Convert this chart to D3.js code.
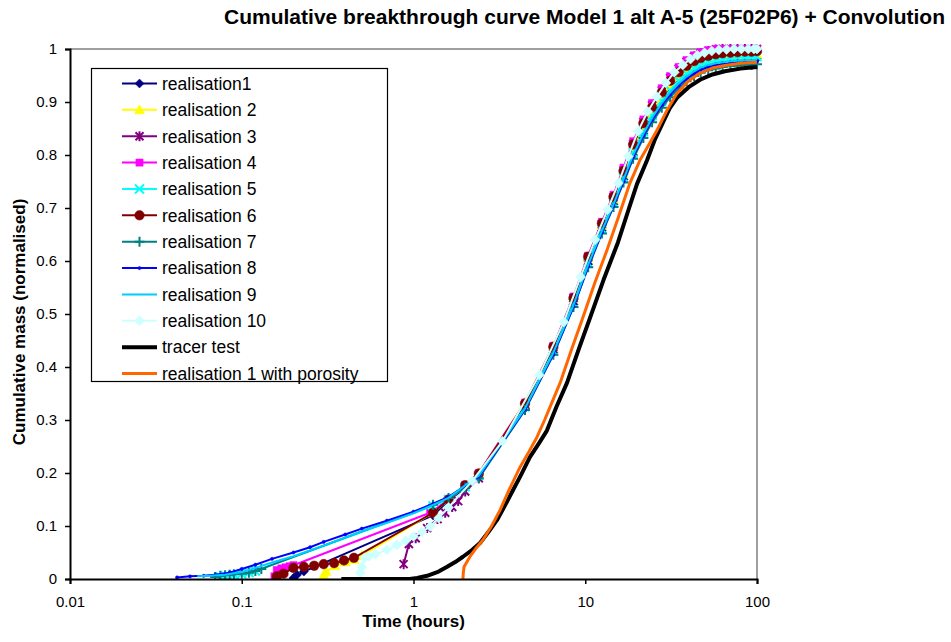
<!DOCTYPE html>
<html>
<head>
<meta charset="utf-8">
<script src="https://cdn.jsdelivr.net/npm/d3@7"></script>
<style>
  html, body { margin: 0; padding: 0; background: #fff; }
  svg { display: block; font-family: "Liberation Sans", Arial, sans-serif; }
</style>
</head>
<body>
<script>
// ---------------- DATA ----------------
const chartTitle = "Cumulative breakthrough curve Model 1 alt A-5 (25F02P6) + Convolution";
const xTitle = "Time (hours)";
const yTitle = "Cumulative mass (normalised)";
const xTickValues = [0.01, 0.1, 1, 10, 100];
const xTickLabels = ["0.01", "0.1", "1", "10", "100"];
const yTickValues = [0, 0.1, 0.2, 0.3, 0.4, 0.5, 0.6, 0.7, 0.8, 0.9, 1];
const yTickLabels = ["0", "0.1", "0.2", "0.3", "0.4", "0.5", "0.6", "0.7", "0.8", "0.9", "1"];

const seriesNames = ["realisation1", "realisation 2", "realisation 3", "realisation 4", "realisation 5",
  "realisation 6", "realisation 7", "realisation 8", "realisation 9", "realisation 10",
  "tracer test", "realisation 1 with porosity"];

// shared time grids (hours) for the steep part of the realisation curves
const tA = [2.0, 2.4, 4.46, 6.52, 8.54, 10.4, 12.5, 14.6, 16.7, 19, 21.8, 24.5, 27.9, 31.2, 35, 38.9, 43, 47, 52, 57.5, 63, 70, 77, 85, 93, 100];
const tB = [2.2, 3.3, 5.4, 7.5, 9.4, 11.4, 13.5, 15.6, 17.8, 20.3, 23.1, 26.1, 29.5, 33, 37, 41, 45, 49.5, 54.5, 60, 66.5, 73.5, 81, 89, 96, 100];

// early parts [time, mass]
const r1Early = [[0.2, 0.002], [0.21, 0.008], [0.23, 0.014], [1.3, 0.12], [1.6, 0.148]];
const r2Early = [[0.3, 0.008], [0.31, 0.014], [0.35, 0.025], [0.4, 0.032], [0.45, 0.037], [0.5, 0.044], [1.3, 0.125], [1.6, 0.15]];
const r3Early = [[0.876, 0.028], [0.94, 0.066], [1.03, 0.077], [1.2, 0.096], [1.38, 0.113], [1.53, 0.125], [1.68, 0.136], [1.82, 0.147]];
const r4Early = [[0.155, 0.005], [0.16, 0.017], [0.17, 0.02], [0.18, 0.022], [0.19, 0.024], [0.2, 0.026], [1.25, 0.125], [1.6, 0.15]];
const r5Early = [[0.075, 0.004], [0.08, 0.006], [0.09, 0.008], [0.1, 0.01], [0.11, 0.012], [0.12, 0.015], [1.3, 0.138], [1.6, 0.15]];
const r6Early = [[0.16, 0.005], [0.175, 0.01], [0.2, 0.021], [0.23, 0.023], [0.264, 0.025], [0.3, 0.028], [0.345, 0.03], [0.394, 0.035], [0.45, 0.04], [1.3, 0.125], [1.6, 0.15]];
const r7Early = [[0.07, 0.004], [0.075, 0.006], [0.08, 0.007], [0.085, 0.008], [0.09, 0.009], [0.1, 0.01], [0.11, 0.012], [0.12, 0.015], [0.13, 0.019], [1.3, 0.14], [1.6, 0.153]];
const r8Early = [[0.042, 0.003], [0.05, 0.005], [0.06, 0.006], [0.07, 0.008], [0.085, 0.012], [0.1, 0.019], [0.12, 0.027], [0.15, 0.038], [0.2, 0.05], [0.25, 0.06], [0.3, 0.07], [0.4, 0.084], [0.5, 0.095], [0.7, 0.11], [1.0, 0.127], [1.3, 0.142], [1.6, 0.155]];
const r9Early = [[0.055, 0.005], [0.065, 0.006], [0.08, 0.008], [0.1, 0.013], [0.12, 0.021], [0.15, 0.031], [0.2, 0.043], [0.3, 0.063], [0.4, 0.078], [0.5, 0.09], [0.7, 0.106], [1.0, 0.124], [1.3, 0.14], [1.6, 0.153]];
const r10Early = [[0.49, 0.012], [0.5, 0.022], [0.52, 0.04], [0.55, 0.043], [0.6, 0.047], [0.7, 0.055], [0.8, 0.064], [0.9, 0.072], [1.0, 0.08], [1.12, 0.089], [1.25, 0.099], [1.4, 0.115], [1.6, 0.135]];

// steep parts (values on tA, realisation 10 on tB)
const r1Up = [0.172, 0.193, 0.322, 0.427, 0.518, 0.594, 0.657, 0.707, 0.754, 0.8, 0.84, 0.87, 0.898, 0.918, 0.935, 0.948, 0.958, 0.965, 0.97, 0.974, 0.977, 0.979, 0.98, 0.981, 0.981, 0.982];
const r2Up = [0.176, 0.2, 0.334, 0.44, 0.53, 0.606, 0.668, 0.717, 0.765, 0.812, 0.852, 0.882, 0.909, 0.931, 0.948, 0.96, 0.969, 0.975, 0.98, 0.984, 0.986, 0.988, 0.989, 0.99, 0.99, 0.99];
const r3Up = [0.165, 0.19, 0.329, 0.437, 0.53, 0.607, 0.67, 0.72, 0.771, 0.821, 0.862, 0.894, 0.922, 0.945, 0.963, 0.976, 0.986, 0.992, 0.996, 0.999, 1.0, 1.0, 1.0, 1.0, 1.0, 1.0];
const r4Up = [0.178, 0.2, 0.333, 0.44, 0.533, 0.61, 0.674, 0.725, 0.776, 0.826, 0.867, 0.898, 0.926, 0.949, 0.966, 0.979, 0.988, 0.994, 0.998, 1.0, 1.0, 1.0, 1.0, 1.0, 1.0, 1.0];
const r5Up = [0.174, 0.195, 0.325, 0.43, 0.52, 0.596, 0.66, 0.71, 0.757, 0.804, 0.844, 0.874, 0.902, 0.922, 0.94, 0.953, 0.963, 0.97, 0.975, 0.978, 0.981, 0.983, 0.984, 0.985, 0.985, 0.986];
const r6Up = [0.177, 0.199, 0.331, 0.438, 0.53, 0.608, 0.671, 0.721, 0.77, 0.82, 0.86, 0.89, 0.918, 0.94, 0.956, 0.968, 0.977, 0.983, 0.987, 0.99, 0.992, 0.993, 0.994, 0.995, 0.995, 0.996];
const r7Up = [0.172, 0.19, 0.319, 0.423, 0.513, 0.588, 0.652, 0.702, 0.748, 0.793, 0.832, 0.862, 0.889, 0.909, 0.926, 0.939, 0.949, 0.955, 0.96, 0.963, 0.966, 0.968, 0.969, 0.97, 0.97, 0.971];
const r8Up = [0.176, 0.193, 0.32, 0.424, 0.514, 0.59, 0.654, 0.704, 0.75, 0.796, 0.836, 0.866, 0.894, 0.914, 0.931, 0.944, 0.954, 0.961, 0.966, 0.969, 0.971, 0.973, 0.974, 0.975, 0.975, 0.976];
const r9Up = [0.177, 0.195, 0.322, 0.427, 0.517, 0.593, 0.657, 0.707, 0.754, 0.8, 0.84, 0.87, 0.898, 0.918, 0.935, 0.948, 0.958, 0.965, 0.97, 0.973, 0.975, 0.977, 0.978, 0.979, 0.979, 0.98];
const r10Up = [0.185, 0.26, 0.385, 0.485, 0.57, 0.64, 0.697, 0.747, 0.797, 0.845, 0.882, 0.91, 0.936, 0.956, 0.97, 0.981, 0.988, 0.993, 0.996, 0.998, 0.999, 1.0, 1.0, 1.0, 1.0, 1.0];

const tracer = [[0.38, 0], [0.6, 0], [0.8, 0], [0.95, 0], [1.05, 0.002], [1.2, 0.006], [1.4, 0.014], [1.57, 0.023], [1.75, 0.032], [1.94, 0.042], [2.2, 0.055], [2.44, 0.068], [2.75, 0.09], [3.06, 0.111], [3.4, 0.138], [3.8, 0.168], [4.25, 0.198], [4.76, 0.23], [5.35, 0.255], [5.98, 0.28], [6.8, 0.325], [7.83, 0.37], [9.2, 0.435], [10.7, 0.494], [12.8, 0.565], [15.5, 0.635], [18, 0.7], [20, 0.745], [22.9, 0.79], [25.5, 0.83], [28.4, 0.862], [31, 0.888], [34.2, 0.908], [40, 0.928], [46.6, 0.942], [55, 0.952], [65, 0.958], [80, 0.963], [100, 0.966]];
const porosity = [[1.94, 0], [1.95, 0.012], [1.97, 0.023], [2.13, 0.042], [2.3, 0.057], [2.54, 0.074], [2.85, 0.1], [3.19, 0.13], [3.6, 0.168], [4.17, 0.211], [4.7, 0.24], [5.24, 0.268], [5.8, 0.3], [6.49, 0.338], [7.14, 0.37], [8.3, 0.432], [9.7, 0.494], [11.4, 0.56], [13.4, 0.621], [15.5, 0.68], [18.2, 0.747], [20.8, 0.79], [23.5, 0.82], [26.2, 0.847], [30, 0.885], [34, 0.915], [40, 0.94], [47, 0.955], [55, 0.964], [65, 0.969], [80, 0.973], [100, 0.975]];

// ---------------- STYLE ----------------
const W = 951, H = 642;
const plot = { left: 70, right: 757, top: 49, bottom: 579 };

function build(early, grid, up) { return early.concat(grid.map((t, i) => [t, up[i]])); }

const series = [
  { name: seriesNames[0], data: build(r1Early, tA, r1Up), color: "#000080", w: 2, m: "diamond", r: 4.5 },
  { name: seriesNames[1], data: build(r2Early, tA, r2Up), color: "#FFFF00", w: 2, m: "triangle", r: 5 },
  { name: seriesNames[2], data: build(r3Early, tA, r3Up), color: "#800080", w: 2, m: "asterisk", r: 5 },
  { name: seriesNames[3], data: build(r4Early, tA, r4Up), color: "#FF00FF", w: 2, m: "square", r: 3.6 },
  { name: seriesNames[4], data: build(r5Early, tA, r5Up), color: "#00FFFF", w: 2, m: "times", r: 4.5 },
  { name: seriesNames[5], data: build(r6Early, tA, r6Up), color: "#800000", w: 2, m: "circle", r: 4.8 },
  { name: seriesNames[6], data: build(r7Early, tA, r7Up), color: "#008080", w: 2, m: "plus", r: 5 },
  { name: seriesNames[7], data: build(r8Early, tA, r8Up), color: "#0000FF", w: 2, m: "circle", r: 1.6 },
  { name: seriesNames[8], data: build(r9Early, tA, r9Up), color: "#00CCFF", w: 2, m: null, r: 0 },
  { name: seriesNames[9], data: build(r10Early, tB, r10Up), color: "#CCFFFF", w: 2, m: "diamond", r: 5 },
  { name: seriesNames[10], data: tracer, color: "#000000", w: 4, m: null, r: 0 },
  { name: seriesNames[11], data: porosity, color: "#FF6600", w: 3, m: null, r: 0 }
];

function markerPath(type, r) {
  switch (type) {
    case "diamond": return `M0,${-r}L${r},0L0,${r}L${-r},0Z`;
    case "triangle": return `M0,${-r}L${r},${r * 0.8}L${-r},${r * 0.8}Z`;
    case "square": return `M${-r},${-r}H${r}V${r}H${-r}Z`;
    case "circle": return `M${r},0A${r},${r} 0 1 1 ${-r},0A${r},${r} 0 1 1 ${r},0Z`;
    case "plus": return `M${-r},0H${r}M0,${-r}V${r}`;
    case "times": return `M${-r},${-r}L${r},${r}M${-r},${r}L${r},${-r}`;
    case "asterisk": { const a = r * 0.8; return `M0,${-r}V${r}M${-a},${-a}L${a},${a}M${-a},${a}L${a},${-a}`; }
  }
  return "";
}
const strokeMarkers = new Set(["plus", "times", "asterisk"]);

// ---------------- DRAW ----------------
const svg = d3.select("body").append("svg").attr("width", W).attr("height", H);
svg.append("rect").attr("width", W).attr("height", H).attr("fill", "#fff");

const x = d3.scaleLog().domain([0.01, 100]).range([plot.left, plot.right]);
const y = d3.scaleLinear().domain([0, 1]).range([plot.bottom, plot.top]);

// plot border (top & right, grey)
svg.append("path")
  .attr("d", `M${plot.left},${plot.top}H${plot.right}V${plot.bottom}`)
  .attr("fill", "none").attr("stroke", "#808080").attr("stroke-width", 1.5);

svg.append("defs").append("clipPath").attr("id", "clip")
  .append("rect").attr("x", plot.left).attr("y", plot.top - 6)
  .attr("width", plot.right - plot.left + 6).attr("height", plot.bottom - plot.top + 6);

const line = d3.line().x(d => x(d[0])).y(d => y(d[1]));
const gSeries = svg.append("g").attr("clip-path", "url(#clip)");

series.forEach(s => {
  const g = gSeries.append("g");
  g.append("path").attr("d", line(s.data)).attr("fill", "none")
    .attr("stroke", s.color).attr("stroke-width", s.w).attr("stroke-linejoin", "round");
  if (s.m) {
    const stroke = strokeMarkers.has(s.m);
    g.selectAll("path.mk").data(s.data).join("path").attr("class", "mk")
      .attr("transform", d => `translate(${x(d[0])},${y(d[1])})`)
      .attr("d", markerPath(s.m, s.r))
      .attr("fill", stroke ? "none" : s.color)
      .attr("stroke", s.color).attr("stroke-width", stroke ? 2 : 0.5);
  }
});

// axes
const yAxis = d3.axisLeft(y).tickValues(yTickValues).tickFormat((d, i) => yTickLabels[i]).tickSize(5).tickPadding(8);
const gy = svg.append("g").attr("transform", `translate(${plot.left},0)`).call(yAxis);
const xAxis = d3.axisBottom(x).tickValues(xTickValues).tickFormat((d, i) => xTickLabels[i]).tickSize(5).tickPadding(12);
const gx = svg.append("g").attr("transform", `translate(0,${plot.bottom})`).call(xAxis);
[gx, gy].forEach(g => {
  g.select(".domain").attr("stroke", "#000").attr("stroke-width", 2);
  g.selectAll(".tick line").attr("stroke", "#000").attr("stroke-width", 1.5);
  g.selectAll(".tick text").attr("fill", "#000").style("font-size", "15px")
    .style("font-family", "'Liberation Sans', Arial, sans-serif");
});

// titles
svg.append("text").attr("x", 945).attr("y", 24).attr("text-anchor", "end")
  .style("font-size", "21px").style("font-weight", "bold").text(chartTitle);
svg.append("text").attr("x", (plot.left + plot.right) / 2).attr("y", 627).attr("text-anchor", "middle")
  .style("font-size", "17px").style("font-weight", "bold").text(xTitle);
svg.append("text").attr("transform", `translate(25,322) rotate(-90)`).attr("text-anchor", "middle")
  .style("font-size", "17px").style("font-weight", "bold").text(yTitle);

// legend
const lg = svg.append("g");
lg.append("rect").attr("x", 91.5).attr("y", 68.5).attr("width", 296).attr("height", 313)
  .attr("fill", "#fff").attr("stroke", "#000").attr("stroke-width", 1.2);
const rowY = d3.scaleLinear().domain([0, series.length - 1]).range([83.5, 373.5]);
series.forEach((s, i) => {
  const yy = rowY(i);
  lg.append("line").attr("x1", 122).attr("x2", 157).attr("y1", yy).attr("y2", yy)
    .attr("stroke", s.color).attr("stroke-width", s.w);
  if (s.m) {
    const stroke = strokeMarkers.has(s.m);
    lg.append("path").attr("transform", `translate(139.5,${yy})`).attr("d", markerPath(s.m, s.r))
      .attr("fill", stroke ? "none" : s.color).attr("stroke", s.color).attr("stroke-width", stroke ? 2 : 0.5);
  }
  lg.append("text").attr("x", 162).attr("y", yy).attr("dy", "0.36em")
    .style("font-size", "17.5px").text(s.name);
});
</script>
</body>
</html>
